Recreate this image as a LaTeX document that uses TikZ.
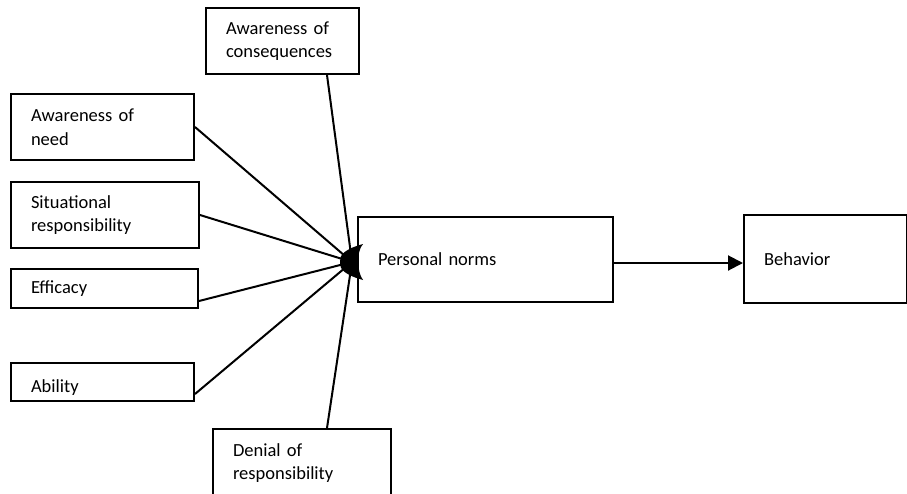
\documentclass[tikz,border=0pt]{standalone}
\usepackage{fontspec}
\setmainfont[WordSpace=0.75]{Carlito}
\usetikzlibrary{arrows.meta}
\begin{document}
\begin{tikzpicture}[x=1pt,y=-1pt,
  box/.style={draw, line width=2pt, anchor=north west, inner xsep=20pt, inner ysep=0pt,
    align=left, font=\fontsize{18.5}{23.5}\selectfont},
  link/.style={line width=2pt},
  flow/.style={line width=2pt, -{Triangle[length=15pt,width=15pt]}}]
\useasboundingbox (0,0) rectangle (907,493);

% determinant boxes
\node[box, minimum width=153pt, minimum height=66pt, text width=113pt] (cons) at (205,7) {Awareness of\\consequences};
\node[box, minimum width=183pt, minimum height=66pt, text width=143pt] (need) at (10,93) {Awareness of\\need};
\node[box, minimum width=188pt, minimum height=66pt, text width=148pt] (sit) at (10,181) {Situational\\responsibility};
\node[box, minimum width=187pt, minimum height=39pt, text width=147pt] (eff) at (10,268) {Efficacy};
\node[box, minimum width=183pt, minimum height=38pt, text width=143pt] (abil) at (10,362) {\raisebox{-10pt}[0pt][0pt]{Ability}};
\node[box, minimum width=178pt, minimum height=68pt, text width=138pt] (den) at (212,428) {Denial of\\responsibility};

% outcome boxes
\node[box, minimum width=255pt, minimum height=85pt, text width=215pt] (pn) at (357,216) {Personal norms};
\node[box, minimum width=163pt, minimum height=88pt, text width=123pt] (beh) at (743,214) {Behavior};

% point where all determinants meet
\coordinate (hub) at (352,262);

\draw[link] ([xshift=44.5pt]cons.south) -- (hub);
\draw[link] (need.east) -- (hub);
\draw[link] (sit.east) -- (hub);
\draw[link] ([yshift=-12.5pt]eff.east) -- (hub);
\draw[link] ([yshift=-12pt]abil.east) -- (hub);
\draw[link] ([xshift=25pt]den.north) -- (hub);

% merged arrowheads at the hub
\fill (363,244) .. controls (345,249) and (339,255) .. (340,262)
      .. controls (339,269) and (345,275) .. (363,280)
      .. controls (357,272) and (356,252) .. cycle;

\draw[flow] ([yshift=-3.5pt]pn.east) -- ([yshift=-3.5pt]pn.east -| beh.west);
\end{tikzpicture}
\end{document}
